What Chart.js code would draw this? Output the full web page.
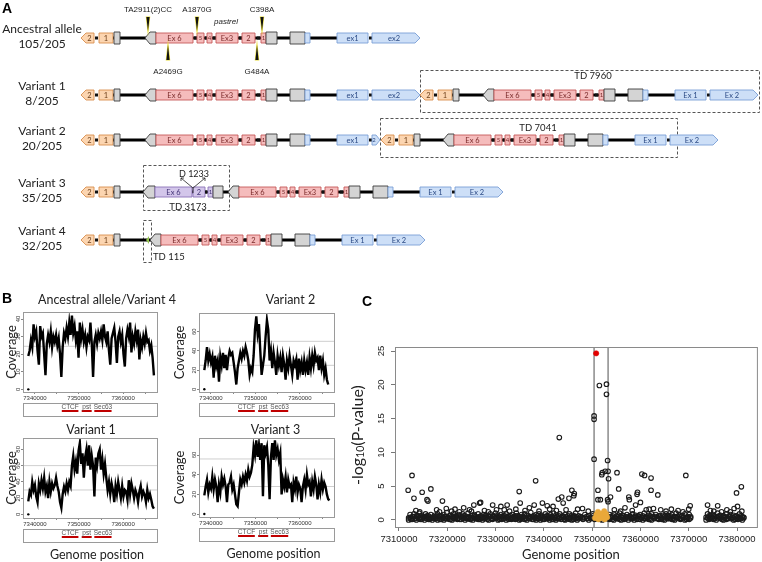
<!DOCTYPE html>
<html lang="en">
<head>
  <meta charset="UTF-8">
  <title>Tandem duplication alleles, coverage and association</title>
  <script src="https://cdn.jsdelivr.net/npm/chart.js"></script>
  <style>
    body { margin: 0; background: #fff; }
    #page { position: relative; width: 762px; height: 562px; overflow: hidden; background: #fff; }
    #page canvas { position: absolute; }
    .tag { position: absolute; font: bold 14px "Liberation Sans", Arial, sans-serif; color: #000; }
  </style>
</head>
<body>
<div id="page">
  <canvas id="geneChart" width="762" height="286" style="left:0;top:0"></canvas>
  <canvas id="covAnc" width="200" height="130" style="left:0;top:290px"></canvas>
  <canvas id="covV2" width="190" height="130" style="left:168px;top:290px"></canvas>
  <canvas id="covV1" width="200" height="144" style="left:0;top:418px"></canvas>
  <canvas id="covV3" width="190" height="144" style="left:168px;top:418px"></canvas>
  <canvas id="assocChart" width="412" height="272" style="left:350px;top:290px"></canvas>
  <div class="tag" style="left:2px;top:0">A</div>
  <div class="tag" style="left:2px;top:290px">B</div>
  <div class="tag" style="left:362px;top:293px">C</div>
</div>
<script>
// ---------- A: allele structures (diagram units) ----------
const rowNames = ['Ancestral allele', 'Variant 1', 'Variant 2', 'Variant 3', 'Variant 4'];
const rowCounts = ['105/205', '8/205', '20/205', '35/205', '32/205'];
const rowY = [38, 95, 140, 192, 240];

// [start, end, kind, label, point]
const upstreamUnit = [
  [0, 13, 'orange', '2', 'left'],
  [14, 17, 'dot'],
  [18, 32, 'orange', '1'],
  [33, 39, 'gray']
];
const bodyUnit = [
  [0, 11, 'gray', '', 'left'],
  [11, 48, 'pink', 'Ex 6'],
  [49, 52, 'dot'],
  [52, 59, 'pink', '5'],
  [60, 62, 'dot'],
  [62, 67, 'pink', '4'],
  [68, 71, 'dot'],
  [71, 93, 'pink', 'Ex3'],
  [94, 97, 'dot'],
  [97, 110, 'pink', '2'],
  [112, 115, 'dot'],
  [116, 121, 'pink', '1'],
  [121, 132, 'gray'],
  [145, 160, 'gray'],
  [160, 165, 'blue'],
  [192, 223, 'blue', null],
  [224, 227, 'dot']
];
const partialUnit = [
  [0, 12, 'gray', '', 'left'],
  [12, 49, 'purple', 'Ex 6'],
  [50, 62, 'purple', '2'],
  [62, 64, 'dot'],
  [65, 70, 'purple', '1'],
  [70, 80, 'gray']
];
// placements: ['up', x] / ['part', x] / ['body', x, ex1 label, ex2 label, ex2 end]
const rowLayout = [
  [['up', 81], ['body', 145, 'ex1', 'ex2', 275]],
  [['up', 81], ['body', 145, 'ex1', 'ex2', 275], ['up', 420], ['body', 483, 'Ex 1', 'Ex 2', 275]],
  [['up', 81], ['body', 145, 'ex1', '2', 235], ['up', 381], ['body', 443, 'Ex 1', 'Ex 2', 275]],
  [['up', 81], ['part', 143], ['body', 228, 'Ex 1', 'Ex 2', 275]],
  [['up', 81], ['body', 150, 'Ex 1', 'Ex 2', 275]]
];
const tdLabels = ['TD 7960', 'TD 7041', 'TD 3173', 'TD 115'];
const tdBoxes = [[420, 759, 70, 112], [380, 677, 118, 157], [143, 229, 165, 210], [143, 151, 220, 262]];
const tdLabelAt = [[593, 76], [538, 128], [188, 207], [153, 257]];
const snpLabels = ['TA2911(2)CC', 'A1870G', 'C398A', 'A2469G', 'G484A'];
const snpX = [148, 197, 262, 168, 257];
const snpAbove = [true, true, true, false, false];

// ---------- B: read coverage ----------
const covPos = [
  7338500, 7338800, 7339100, 7339400, 7339700, 7340000, 7340300, 7340600, 7340900, 7341200,
  7341500, 7341800, 7342100, 7342400, 7342700, 7343000, 7343300, 7343600, 7343900, 7344200,
  7344500, 7344800, 7345100, 7345400, 7345700, 7346000, 7346300, 7346600, 7346900, 7347200,
  7347500, 7347800, 7348100, 7348400, 7348700, 7349000, 7349300, 7349600, 7349900, 7350200,
  7350500, 7350800, 7351100, 7351400, 7351700, 7352000, 7352300, 7352600, 7352900, 7353200,
  7353500, 7353800, 7354100, 7354400, 7354700, 7355000, 7355300, 7355600, 7355900, 7356200,
  7356500, 7356800, 7357100, 7357400, 7357700, 7358000, 7358300, 7358600, 7358900, 7359200,
  7359500, 7359800, 7360100, 7360400, 7360700, 7361000, 7361300, 7361600, 7361900, 7362200,
  7362500, 7362800, 7363100, 7363400, 7363700, 7364000, 7364300, 7364600, 7364900, 7365200,
  7365500, 7365800, 7366100, 7366400, 7366700, 7367000
];
const covAncestral = [
  19, 22, 28, 24, 37, 30, 33, 22, 14, 36,
  30, 32, 20, 8, 26, 31, 27, 33, 24, 30,
  27, 31, 25, 29, 20, 7, 24, 32, 29, 35,
  30, 38, 31, 42, 32, 36, 28, 33, 18, 38,
  29, 34, 27, 31, 24, 30, 28, 38, 26, 7,
  27, 31, 26, 32, 29, 33, 28, 37, 30, 27,
  33, 22, 14, 29, 32, 35, 27, 15, 30, 33,
  27, 31, 20, 13, 29, 34, 30, 38, 21, 30,
  26, 33, 28, 34, 17, 28, 24, 30, 26, 32,
  27, 28, 22, 25, 18, 8
];
const covVariant2 = [
  20, 30, 44, 30, 37, 28, 34, 12, 35, 24,
  30, 8, 34, 25, 38, 22, 36, 20, 33, 40,
  36, 38, 28, 18, 5, 22, 30, 38, 32, 40,
  35, 44, 38, 30, 15, 22, 18, 35, 62, 76,
  58, 68, 40, 15, 25, 35, 55, 72, 62, 30,
  40, 22, 38, 28, 15, 35, 25, 33, 18, 35,
  26, 10, 30, 22, 35, 25, 15, 30, 25, 31,
  10, 32, 20, 28, 15, 30, 20, 28, 15, 33,
  22, 35, 25, 38, 30, 33, 20, 35, 22, 30,
  15, 22, 10, 5
];
const covVariant1 = [
  16, 28, 24, 40, 30, 36, 22, 15, 38, 30,
  42, 32, 45, 28, 35, 20, 40, 28, 38, 32,
  36, 45, 35, 28, 15, 8, 25, 34, 28, 38,
  30, 40, 35, 60, 72, 55, 65, 50, 78, 88,
  62, 75, 45, 70, 80, 60, 85, 55, 72, 60,
  22, 70, 60, 75, 80, 55, 68, 50, 62, 45,
  30, 40, 25, 38, 30, 15, 35, 25, 40, 30,
  20, 35, 22, 30, 28, 18, 42, 25, 38, 30,
  20, 30, 25, 15, 28, 35, 22, 28, 24, 15,
  30, 20, 25, 18, 10, 7
];
const covVariant3 = [
  19, 28, 35, 22, 30, 26, 38, 25, 35, 28,
  12, 30, 22, 38, 30, 36, 28, 12, 30, 32,
  38, 25, 30, 20, 10, 8, 22, 35, 30, 38,
  32, 40, 34, 45, 38, 42, 50, 68, 60, 75,
  58, 70, 55, 72, 18, 70, 62, 68, 50, 15,
  58, 72, 55, 75, 60, 66, 55, 62, 20, 35,
  28, 38, 22, 35, 28, 30, 12, 32, 25, 38,
  22, 30, 26, 12, 28, 35, 25, 40, 30, 33,
  18, 33, 25, 38, 30, 15, 30, 22, 35, 25,
  32, 28, 20, 15, 14
];
const covXRange = [7337300, 7367700];
const covXTicks = [7340000, 7345000, 7350000, 7355000, 7360000, 7365000];
const geneNames = ['CTCF', 'pst', 'Sec63'];
const geneStart = [7346100, 7350620, 7353480];
const geneEnd = [7349870, 7352880, 7357390];

// ---------- C: association, -log10(P) by position (kb) ----------
const pvalXTicks = [7310000, 7320000, 7330000, 7340000, 7350000, 7360000, 7370000, 7380000];
const pvalYTicks = [0, 5, 10, 15, 20, 25];
const bandKb = [
  7312.0, 7312.3, 7312.5, 7312.8, 7313.1, 7313.4, 7313.6, 7313.9, 7314.2, 7314.4, 7314.7, 7315.0, 7315.3, 7315.5, 7315.8, 7316.1, 7316.3, 7316.6, 7316.9, 7317.2,
  7317.4, 7317.7, 7318.0, 7318.3, 7318.5, 7318.8, 7319.1, 7319.3, 7319.6, 7319.9, 7320.2, 7320.4, 7320.7, 7321.0, 7321.3, 7321.5, 7321.8, 7322.1, 7322.3, 7322.6,
  7322.9, 7323.2, 7323.4, 7323.7, 7324.0, 7324.3, 7324.5, 7324.8, 7325.1, 7325.3, 7325.6, 7325.9, 7326.2, 7326.4, 7326.7, 7327.0, 7327.3, 7327.5, 7327.8, 7328.1,
  7328.3, 7328.6, 7328.9, 7329.2, 7329.4, 7329.7, 7330.0, 7330.3, 7330.5, 7330.8, 7331.1, 7331.3, 7331.6, 7331.9, 7332.2, 7332.4, 7332.7, 7333.0, 7333.3, 7333.5,
  7333.8, 7334.1, 7334.3, 7334.6, 7334.9, 7335.2, 7335.4, 7335.7, 7336.0, 7336.3, 7336.5, 7336.8, 7337.1, 7337.3, 7337.6, 7337.9, 7338.2, 7338.4, 7338.7, 7339.0,
  7339.3, 7339.5, 7339.8, 7340.1, 7340.3, 7340.6, 7340.9, 7341.2, 7341.4, 7341.7, 7342.0, 7342.3, 7342.5, 7342.8, 7343.1, 7343.3, 7343.6, 7343.9, 7344.2, 7344.4,
  7344.7, 7345.0, 7345.3, 7345.5, 7345.8, 7346.1, 7346.3, 7346.6, 7346.9, 7347.2, 7347.6, 7348.1, 7348.5, 7348.9, 7349.3, 7349.7, 7350.1, 7350.5, 7350.9, 7351.3,
  7351.7, 7352.1, 7352.5, 7352.9, 7353.3, 7353.6, 7353.9, 7354.2, 7354.5, 7354.8, 7355.1, 7355.4, 7355.7, 7356.0, 7356.3, 7356.6, 7356.9, 7357.2, 7357.5, 7357.8,
  7358.1, 7358.4, 7358.7, 7359.0, 7359.3, 7359.6, 7359.9, 7360.2, 7360.5, 7360.8, 7361.1, 7361.4, 7361.7, 7362.0, 7362.3, 7362.6, 7362.9, 7363.2, 7363.5, 7363.8,
  7364.1, 7364.4, 7364.7, 7365.0, 7365.3, 7365.6, 7365.9, 7366.2, 7366.5, 7366.8, 7367.1, 7367.4, 7367.7, 7368.0, 7368.3, 7368.6, 7368.9, 7369.2, 7369.5, 7369.8,
  7370.1, 7370.4, 7373.6, 7373.9, 7374.2, 7374.5, 7374.8, 7375.1, 7375.4, 7375.7, 7376.0, 7376.3, 7376.6, 7376.9, 7377.2, 7377.5, 7377.8, 7378.1, 7378.4, 7378.7,
  7379.0, 7379.3, 7379.6, 7379.9, 7380.2, 7380.5, 7380.8, 7381.1, 7381.4
];
// two layers of the dense low-signal cloud, same positions
const bandLog = [
  0.3, 0.8, 0.1, 0.5, 0.9, 0.2, 0.6, 0.4, 1.0, 0.1, 0.7, 0.3, 0.5, 0.9, 0.2, 0.6, 0.1, 0.8, 0.4, 0.3,
  0.7, 0.2, 0.9, 0.5, 0.1, 0.6, 0.3, 0.8, 0.2, 1.1, 0.4, 0.1, 0.7, 0.5, 0.9, 0.3, 0.6, 0.2, 0.8, 0.1,
  0.5, 0.9, 0.3, 0.6, 0.2, 1.0, 0.4, 0.1, 0.7, 0.3, 0.8, 0.5, 0.2, 0.9, 0.1, 0.6, 0.4, 0.8, 0.3, 0.7,
  0.1, 0.5, 0.9, 0.2, 0.6, 0.4, 1.0, 0.3, 0.7, 0.1, 0.8, 0.5, 0.2, 0.6, 0.9, 0.3, 0.1, 0.7, 0.4, 0.8,
  0.2, 0.6, 1.0, 0.3, 0.5, 0.1, 0.8, 0.4, 0.9, 0.2, 0.7, 0.3, 0.5, 1.1, 0.1, 0.6, 0.4, 0.8, 0.2, 0.9,
  0.3, 0.7, 0.1, 0.5, 0.9, 0.2, 0.6, 0.4, 0.8, 0.1, 1.0, 0.3, 0.7, 0.5, 0.2, 0.9, 0.4, 0.6, 0.1, 0.8,
  0.5, 0.2, 0.9, 0.3, 0.7, 0.1, 0.6, 1.0, 0.4, 0.2, 0.5, 0.3, 0.8, 0.2, 0.6, 0.4, 0.9, 0.3, 0.2, 0.5,
  0.7, 0.4, 0.3, 0.6, 0.2, 0.8, 0.5, 0.1, 0.9, 0.3, 0.6, 0.2, 1.0, 0.4, 0.7, 0.1, 0.5, 0.8, 0.3, 0.6,
  0.2, 0.9, 0.4, 0.7, 0.1, 0.5, 0.8, 0.3, 0.6, 1.0, 0.2, 0.4, 0.7, 0.1, 0.9, 0.5, 0.3, 0.8, 0.2, 0.6,
  0.4, 0.1, 0.7, 0.5, 0.9, 0.2, 0.6, 0.3, 0.8, 0.1, 0.5, 1.0, 0.3, 0.7, 0.2, 0.6, 0.4, 0.9, 0.1, 0.5,
  0.8, 0.3, 0.4, 0.9, 0.1, 0.6, 0.3, 0.8, 0.2, 0.5, 1.0, 0.4, 0.7, 0.1, 0.6, 0.3, 0.9, 0.2, 0.5, 0.8,
  0.3, 0.7, 0.1, 0.6, 0.4, 0.9, 0.2, 0.5, 0.3
];
const bandLog2 = [
  0.0, 0.4, 0.2, 0.1, 0.5, 0.3, 0.0, 0.6, 0.2, 0.4, 0.1, 0.5, 0.0, 0.3, 0.6, 0.1, 0.4, 0.2, 0.0, 0.5,
  0.2, 0.5, 0.0, 0.3, 0.6, 0.1, 0.4, 0.0, 0.5, 0.2, 0.3, 0.6, 0.1, 0.0, 0.4, 0.2, 0.5, 0.1, 0.3, 0.6,
  0.1, 0.3, 0.6, 0.0, 0.4, 0.2, 0.5, 0.1, 0.3, 0.0, 0.6, 0.2, 0.4, 0.1, 0.5, 0.3, 0.0, 0.2, 0.6, 0.4,
  0.3, 0.0, 0.5, 0.2, 0.1, 0.6, 0.3, 0.4, 0.0, 0.5, 0.2, 0.1, 0.6, 0.3, 0.0, 0.4, 0.5, 0.2, 0.1, 0.3,
  0.5, 0.1, 0.3, 0.6, 0.0, 0.4, 0.2, 0.5, 0.1, 0.3, 0.0, 0.6, 0.2, 0.4, 0.5, 0.1, 0.3, 0.0, 0.6, 0.2,
  0.0, 0.5, 0.3, 0.1, 0.4, 0.6, 0.2, 0.0, 0.3, 0.5, 0.1, 0.4, 0.0, 0.2, 0.6, 0.3, 0.1, 0.5, 0.4, 0.0,
  0.2, 0.6, 0.1, 0.4, 0.0, 0.3, 0.5, 0.2, 0.0, 0.6, 0.3, 0.1, 0.4, 0.5, 0.0, 0.2, 0.6, 0.1, 0.4, 0.3,
  0.1, 0.0, 0.5, 0.2, 0.4, 0.1, 0.3, 0.6, 0.0, 0.4, 0.2, 0.5, 0.1, 0.0, 0.3, 0.6, 0.2, 0.4, 0.0, 0.5,
  0.4, 0.2, 0.0, 0.5, 0.3, 0.6, 0.1, 0.4, 0.0, 0.2, 0.5, 0.3, 0.1, 0.6, 0.0, 0.4, 0.2, 0.5, 0.3, 0.1,
  0.6, 0.3, 0.1, 0.0, 0.4, 0.5, 0.2, 0.6, 0.1, 0.3, 0.0, 0.4, 0.5, 0.2, 0.1, 0.6, 0.3, 0.0, 0.4, 0.2,
  0.1, 0.5, 0.0, 0.3, 0.6, 0.2, 0.4, 0.1, 0.5, 0.0, 0.3, 0.6, 0.2, 0.4, 0.0, 0.5, 0.1, 0.3, 0.6, 0.2,
  0.4, 0.0, 0.5, 0.2, 0.1, 0.3, 0.6, 0.0, 0.4
];
const lowKb = [
  7313.5, 7314.3, 7317.8, 7318.4, 7320.9, 7321.6, 7322.5, 7324.6, 7325.0, 7327.7, 7328.5, 7330.2, 7332.9, 7334.2,
  7336.1, 7337.0, 7339.0, 7341.2, 7341.9, 7342.6, 7344.6, 7347.0, 7349.2, 7354.6, 7355.9, 7356.8, 7358.3, 7359.0,
  7361.2, 7362.7, 7364.2, 7365.3, 7366.4, 7367.8, 7368.8, 7370.0, 7374.5, 7375.2, 7376.8, 7377.9, 7378.6, 7381.0
];
const lowLog = [
  1.4, 1.2, 1.5, 1.2, 1.3, 1.6, 1.2, 1.5, 1.3, 1.4, 1.2, 1.5, 1.3, 1.6,
  1.4, 1.8, 1.3, 1.6, 2.0, 1.4, 1.5, 1.6, 1.3, 1.5, 1.3, 1.8, 1.4, 2.2,
  1.5, 1.7, 1.5, 1.3, 1.6, 1.4, 1.2, 1.6, 1.4, 1.3, 1.2, 1.5, 1.2, 1.3
];
const midKb = [
  7311.9, 7312.7, 7313.1, 7314.8, 7315.8, 7316.0, 7316.6, 7319.0, 7319.8, 7323.4, 7325.5, 7326.7, 7326.9, 7329.4,
  7331.1, 7331.8, 7332.4, 7334.9, 7335.1, 7338.0, 7338.3, 7339.7, 7340.7, 7343.0, 7343.2, 7343.7, 7344.0, 7345.2,
  7345.8, 7346.2, 7346.3, 7348.0, 7350.4, 7350.4, 7350.4, 7351.5, 7351.2, 7351.2, 7351.7, 7352.1, 7352.0, 7352.7,
  7352.97, 7352.97, 7353.2, 7353.3, 7353.4, 7353.2, 7353.3, 7353.8, 7355.15, 7355.5, 7357.6, 7357.7, 7359.3, 7359.4,
  7360.0, 7360.3, 7360.85, 7361.8, 7362.2, 7362.2, 7363.6, 7369.4, 7370.3, 7373.9, 7376.0, 7379.4, 7379.9, 7380.1, 7380.9
];
const midLog = [
  4.4, 6.6, 3.2, 4.1, 3.0, 2.8, 4.6, 2.8, 1.7, 1.8, 2.2, 2.5, 2.6, 2.2,
  2.0, 1.5, 2.2, 4.2, 2.5, 2.2, 5.8, 2.5, 2.1, 3.1, 12.2, 3.4, 2.5, 3.2,
  4.4, 3.6, 3.9, 1.7, 15.4, 14.9, 9.0, 19.9, 4.4, 3.0, 3.0, 7.0, 6.7, 7.2,
  20.1, 18.6, 8.8, 7.2, 6.1, 3.0, 2.7, 3.4, 7.0, 4.6, 3.4, 3.0, 3.8, 4.1,
  2.6, 6.8, 6.6, 1.6, 6.2, 4.4, 3.7, 6.6, 2.1, 2.2, 2.1, 1.7, 4.0, 2.0, 4.9
];
const orangeKb = [7350.6, 7350.9, 7351.2, 7351.4, 7351.7, 7351.9, 7352.1, 7352.3, 7352.5, 7352.7, 7352.9, 7353.1, 7351.3, 7352.6];
const orangeLog = [0.3, 0.8, 1.2, 0.5, 0.9, 0.3, 0.7, 1.0, 1.3, 0.6, 0.9, 0.4, 0.1, 0.1];
const topHitKb = [7350.83];
const topHitLog = [24.66];
const tdEdgeKb = [7350.4, 7353.3];

Chart.defaults.font.family = 'Lato, sans-serif';
const tickFont = '"Liberation Sans", Arial, sans-serif';

// ---------- A drawing ----------
const geneColors = {
  orange: ['#fcd5b0', '#d98f4e', '#6b3f1a'],
  pink: ['#f5bcbc', '#c65a5a', '#7a2a2a'],
  blue: ['#cddff7', '#7b9fd6', '#2b4a85'],
  gray: ['#d4d4d4', '#3c3c3c', '#333'],
  purple: ['#d3c6ea', '#8a72b8', '#3f2f73']
};

function featurePath(ctx, x0, x1, yc, h, dir) {
  const tip = Math.min(5, (x1 - x0) / 2);
  ctx.beginPath();
  if (dir === 'left') {
    ctx.moveTo(x0, yc); ctx.lineTo(x0 + tip, yc - h); ctx.lineTo(x1, yc - h);
    ctx.lineTo(x1, yc + h); ctx.lineTo(x0 + tip, yc + h);
  } else if (dir === 'right') {
    ctx.moveTo(x0, yc - h); ctx.lineTo(x1 - tip, yc - h); ctx.lineTo(x1, yc);
    ctx.lineTo(x1 - tip, yc + h); ctx.lineTo(x0, yc + h);
  } else {
    ctx.rect(x0, yc - h, x1 - x0, 2 * h);
  }
  ctx.closePath();
}

function drawFeature(ctx, x0, x1, yc, kind, label, dir) {
  if (kind === 'dot') { ctx.fillStyle = '#111'; ctx.fillRect(x0, yc - 1.5, x1 - x0, 3); return; }
  const c = geneColors[kind];
  featurePath(ctx, x0, x1, yc, kind === 'gray' ? 6 : 5, dir);
  ctx.fillStyle = c[0]; ctx.fill();
  ctx.lineWidth = 0.9; ctx.strokeStyle = c[1]; ctx.stroke();
  if (label) {
    ctx.fillStyle = c[2];
    ctx.font = ((x1 - x0) < 9 ? 6 : 7.5) + 'px Lato, sans-serif';
    const shift = dir === 'left' ? 2 : dir === 'right' ? -2 : 0;
    ctx.fillText(label, (x0 + x1) / 2 + shift, yc + 0.5);
  }
}

const geneDraw = {
  id: 'geneDraw',
  afterDraw(chart) {
    const { ctx, scales: { x, y } } = chart;
    const X = v => x.getPixelForValue(v);
    const Y = v => y.getPixelForValue(v);
    ctx.save();
    ctx.textAlign = 'center'; ctx.textBaseline = 'middle';

    // row names and frequencies
    ctx.fillStyle = '#222'; ctx.font = '12px Lato, sans-serif';
    rowNames.forEach((n, i) => {
      ctx.fillText(n, X(42), Y(rowY[i] - 9));
      ctx.fillText(rowCounts[i], X(42), Y(rowY[i] + 6));
    });

    // duplicated regions
    ctx.strokeStyle = '#555'; ctx.lineWidth = 1; ctx.setLineDash([3, 2]);
    tdBoxes.forEach(b => ctx.strokeRect(X(b[0]) + 0.5, Y(b[2]) + 0.5, X(b[1]) - X(b[0]), Y(b[3]) - Y(b[2])));
    ctx.setLineDash([]);

    rowLayout.forEach((row, r) => {
      const yc = Y(rowY[r]);
      let upX = 0;
      ctx.fillStyle = '#000';
      row.forEach(p => {
        if (p[0] === 'up') upX = p[1];
        if (p[0] === 'body') ctx.fillRect(X(upX + 32), yc - 1.5, X(p[1] + 192) - X(upX + 32), 3);
      });
      row.forEach(p => {
        const feats = p[0] === 'up' ? upstreamUnit : p[0] === 'part' ? partialUnit
          : bodyUnit.concat([[227, p[4], 'blue', p[3], 'right']]);
        feats.forEach(f => {
          const label = f[3] === null ? p[2] : f[3];
          drawFeature(ctx, X(p[1] + f[0]), X(p[1] + f[1]), yc, f[2], label, f[4]);
        });
      });
    });

    // SNPs on the ancestral allele
    snpX.forEach((sx, i) => {
      const up = snpAbove[i];
      ctx.beginPath();
      if (up) {
        ctx.moveTo(X(sx) - 1.6, Y(17)); ctx.lineTo(X(sx) + 1.6, Y(17)); ctx.lineTo(X(sx), Y(31));
      } else {
        ctx.moveTo(X(sx), Y(45)); ctx.lineTo(X(sx) + 1.6, Y(60)); ctx.lineTo(X(sx) - 1.6, Y(60));
      }
      ctx.closePath();
      ctx.strokeStyle = '#e8dc3a'; ctx.lineWidth = 1.2; ctx.stroke();
      ctx.fillStyle = '#111'; ctx.fill();
      ctx.fillStyle = '#222'; ctx.font = '8px "Liberation Sans", Arial, sans-serif';
      ctx.fillText(snpLabels[i], X(sx), Y(up ? 10 : 72));
    });
    ctx.font = 'italic 8px "Liberation Sans", Arial, sans-serif';
    ctx.fillText('pastrel', X(226), Y(22));

    // deletion inside the partial copy (variant 3)
    ctx.strokeStyle = '#222'; ctx.lineWidth = 0.8;
    ctx.beginPath();
    ctx.moveTo(X(181), Y(178)); ctx.lineTo(X(193), Y(188)); ctx.lineTo(X(205), Y(178));
    ctx.moveTo(X(193), Y(188)); ctx.lineTo(X(193), Y(193));
    ctx.moveTo(X(181), Y(181)); ctx.lineTo(X(181), Y(178)); ctx.lineTo(X(184), Y(178));
    ctx.moveTo(X(205), Y(181)); ctx.lineTo(X(205), Y(178)); ctx.lineTo(X(202), Y(178));
    ctx.stroke();
    ctx.font = '9px Lato, sans-serif';
    ctx.fillText('D 1233', X(194), Y(174));

    // junction of variant 4
    ctx.fillStyle = '#93c150';
    ctx.beginPath(); ctx.moveTo(X(146), Y(240)); ctx.lineTo(X(149), Y(236)); ctx.lineTo(X(149), Y(244)); ctx.closePath(); ctx.fill();

    ctx.fillStyle = '#222'; ctx.font = '9.5px Lato, sans-serif';
    tdLabels.forEach((t, i) => {
      ctx.textAlign = i === 3 ? 'left' : 'center';
      ctx.fillText(t, X(tdLabelAt[i][0]), Y(tdLabelAt[i][1]));
    });
    ctx.restore();
  }
};

new Chart(document.getElementById('geneChart'), {
  type: 'scatter',
  data: { datasets: [] },
  options: {
    responsive: false, animation: false, events: [],
    plugins: { legend: { display: false }, tooltip: { enabled: false } },
    scales: {
      x: { type: 'linear', display: false, min: 0, max: 762 },
      y: { type: 'linear', display: false, min: 0, max: 286, reverse: true }
    }
  },
  plugins: [geneDraw]
});

// ---------- B drawing ----------
const coverageExtras = {
  id: 'covExtras',
  afterDraw(chart, args, opts) {
    const { ctx, chartArea: a, scales: { x, y } } = chart;
    ctx.save();
    ctx.strokeStyle = '#9a9a9a'; ctx.lineWidth = 1;
    ctx.strokeRect(a.left + 0.5, a.top + 0.5, a.right - a.left, a.bottom - a.top);
    ctx.textAlign = 'center'; ctx.textBaseline = 'middle';
    ctx.fillStyle = '#333'; ctx.font = '6px ' + tickFont;
    opts.yTicks.forEach(v => {
      ctx.save();
      ctx.translate(a.left - 5, y.getPixelForValue(v));
      ctx.rotate(-Math.PI / 2);
      ctx.fillText(String(v), 0, 0);
      ctx.restore();
    });
    ctx.fillStyle = '#222'; ctx.font = '12.5px Lato, sans-serif';
    ctx.fillText(opts.title, (a.left + a.right) / 2 + opts.titleDx, a.top - opts.titleDy);
    const t0 = a.bottom + 11, t1 = a.bottom + 24;
    ctx.strokeRect(a.left + 0.5, t0 + 0.5, a.right - a.left, t1 - t0);
    geneNames.forEach((g, i) => {
      const g0 = x.getPixelForValue(geneStart[i]), g1 = x.getPixelForValue(geneEnd[i]);
      ctx.fillStyle = '#c00000'; ctx.fillRect(g0, t0 + 7, g1 - g0, 2);
      ctx.fillStyle = '#555'; ctx.font = '6.5px ' + tickFont;
      ctx.fillText(g, (g0 + g1) / 2, t0 + 4);
    });
    if (opts.xTitle) {
      ctx.fillStyle = '#222'; ctx.font = '12.5px Lato, sans-serif';
      ctx.fillText('Genome position', (a.left + a.right) / 2 + 7, a.bottom + 37);
    }
    ctx.restore();
  }
};

function coverageChart(id, values, o) {
  return new Chart(document.getElementById(id), {
    type: 'line',
    data: {
      datasets: [
        { data: values.map((v, i) => ({ x: covPos[i], y: v })), borderColor: '#000', borderWidth: 2.4, pointRadius: 0, tension: 0 },
        { data: [{ x: covPos[0], y: 0 }], showLine: false, pointRadius: 1.2, pointBackgroundColor: '#000', pointBorderWidth: 0 }
      ].concat(o.means.map(m => ({
        data: [{ x: covXRange[0], y: m }, { x: covXRange[1], y: m }],
        borderColor: '#cfcfcf', borderWidth: 1, pointRadius: 0
      })))
    },
    options: {
      responsive: false, animation: false, events: [],
      layout: { padding: o.pad },
      plugins: {
        legend: { display: false }, tooltip: { enabled: false },
        covExtras: { title: o.title, titleDx: o.titleDx, titleDy: o.titleDy, yTicks: o.yTicks, xTitle: o.xTitle }
      },
      scales: {
        x: {
          type: 'linear', min: covXRange[0], max: covXRange[1],
          afterBuildTicks: s => { s.ticks = covXTicks.map(v => ({ value: v })); },
          afterFit: s => { s.height = 12; },
          border: { display: false },
          grid: { drawOnChartArea: false, tickLength: 2, color: '#888' },
          ticks: {
            autoSkip: false, maxRotation: 0, padding: 1, color: '#333',
            font: { family: tickFont, size: 6 },
            callback: v => (v % 10000 === 0 ? String(v) : '')
          }
        },
        y: {
          type: 'linear', min: o.yMin, max: o.yMax,
          afterBuildTicks: s => { s.ticks = o.yTicks.map(v => ({ value: v })); },
          afterFit: s => { s.width = o.axisW; },
          border: { display: false },
          grid: { drawOnChartArea: false, tickLength: 2, color: '#888' },
          ticks: { display: false },
          title: { display: true, text: 'Coverage', color: '#222', font: { size: 13 }, padding: { top: 4, bottom: 0 } }
        }
      }
    },
    plugins: [coverageExtras]
  });
}

coverageChart('covAnc', covAncestral, {
  title: 'Ancestral allele/Variant 4', titleDx: 17, titleDy: 12, xTitle: false,
  yMin: -1.5, yMax: 44, yTicks: [0, 10, 20, 30, 40], means: [24.5],
  axisW: 23, pad: { left: 0, top: 22, right: 43, bottom: 16 }
});
coverageChart('covV2', covVariant2, {
  title: 'Variant 2', titleDx: 24, titleDy: 13, xTitle: false,
  yMin: -2.8, yMax: 79.5, yTicks: [0, 20, 40, 60], means: [25, 50],
  axisW: 31, pad: { left: 0, top: 23, right: 24, bottom: 16 }
});
coverageChart('covV1', covVariant1, {
  title: 'Variant 1', titleDx: 1, titleDy: 8, xTitle: true,
  yMin: -4.5, yMax: 94, yTicks: [0, 20, 40, 60, 80], means: [30, 60],
  axisW: 23, pad: { left: 0, top: 20, right: 43, bottom: 32 }
});
coverageChart('covV3', covVariant3, {
  title: 'Variant 3', titleDx: 9, titleDy: 8, xTitle: true,
  yMin: -3, yMax: 77.3, yTicks: [0, 20, 40, 60], means: [28, 56],
  axisW: 31, pad: { left: 0, top: 20, right: 24, bottom: 33 }
});

// ---------- C drawing ----------
const assocExtras = {
  id: 'assocExtras',
  afterDraw(chart) {
    const { ctx, chartArea: a, scales: { y } } = chart;
    ctx.save();
    ctx.strokeStyle = '#8a8a8a'; ctx.lineWidth = 1;
    ctx.strokeRect(a.left + 0.5, a.top + 0.5, a.right - a.left, a.bottom - a.top);
    ctx.textAlign = 'center'; ctx.textBaseline = 'middle';
    ctx.fillStyle = '#222'; ctx.font = '9.5px ' + tickFont;
    pvalYTicks.forEach(v => {
      ctx.save();
      ctx.translate(a.left - 14, y.getPixelForValue(v));
      ctx.rotate(-Math.PI / 2);
      ctx.fillText(String(v), 0, 0);
      ctx.restore();
    });
    // y title with subscript
    ctx.save();
    ctx.translate(8, (a.top + a.bottom) / 2 - 2);
    ctx.rotate(-Math.PI / 2);
    const big = '16px Lato, sans-serif', small = '10.5px Lato, sans-serif';
    ctx.font = big; const w1 = ctx.measureText('-log').width, w3 = ctx.measureText('(P-value)').width;
    ctx.font = small; const w2 = ctx.measureText('10').width;
    let sx = -(w1 + w2 + w3) / 2;
    ctx.textAlign = 'left';
    ctx.font = big; ctx.fillText('-log', sx, 0); sx += w1;
    ctx.font = small; ctx.fillText('10', sx, 3); sx += w2;
    ctx.font = big; ctx.fillText('(P-value)', sx, 0);
    ctx.restore();
    ctx.font = '13px Lato, sans-serif';
    ctx.fillText('Genome position', (a.left + a.right) / 2 - 5, a.bottom + 28);
    ctx.restore();
  }
};

const toPoints = (kb, val) => kb.map((k, i) => ({ x: k * 1000, y: val[i] }));

new Chart(document.getElementById('assocChart'), {
  type: 'scatter',
  data: {
    datasets: [
      { data: toPoints(topHitKb, topHitLog), pointRadius: 2.7, backgroundColor: '#e10000', borderColor: '#e10000', borderWidth: 0.5 },
      { data: toPoints(orangeKb, orangeLog), pointRadius: 2.7, backgroundColor: '#e9a83a', borderColor: '#e9a83a', borderWidth: 0.5 },
      {
        data: toPoints(midKb, midLog).concat(toPoints(lowKb, lowLog), toPoints(bandKb, bandLog), toPoints(bandKb, bandLog2)),
        pointRadius: 2.3, borderWidth: 1.1, borderColor: '#1b1b1b', backgroundColor: 'rgba(0,0,0,0)'
      }
    ].concat(tdEdgeKb.map(k => ({
      data: [{ x: k * 1000, y: -1.04 }, { x: k * 1000, y: 25.6 }],
      showLine: true, pointRadius: 0, borderColor: '#6e6e6e', borderWidth: 1.2
    })))
  },
  options: {
    responsive: false, animation: false, events: [],
    layout: { padding: { left: 0, top: 57, right: 3, bottom: 15 } },
    plugins: { legend: { display: false }, tooltip: { enabled: false } },
    scales: {
      x: {
        type: 'linear', min: 7309176, max: 7384120,
        afterBuildTicks: s => { s.ticks = pvalXTicks.map(v => ({ value: v })); },
        afterFit: s => { s.height = 20; },
        border: { display: false },
        grid: { drawOnChartArea: false, tickLength: 4, color: '#777' },
        ticks: { autoSkip: false, maxRotation: 0, padding: 3, color: '#222', font: { family: tickFont, size: 9.5 }, callback: v => String(v) }
      },
      y: {
        type: 'linear', min: -1.04, max: 25.6,
        afterBuildTicks: s => { s.ticks = pvalYTicks.map(v => ({ value: v })); },
        afterFit: s => { s.width = 45; },
        border: { display: false },
        grid: { drawOnChartArea: false, tickLength: 4, color: '#777' },
        ticks: { display: false }
      }
    }
  },
  plugins: [assocExtras]
});
</script>
</body>
</html>
